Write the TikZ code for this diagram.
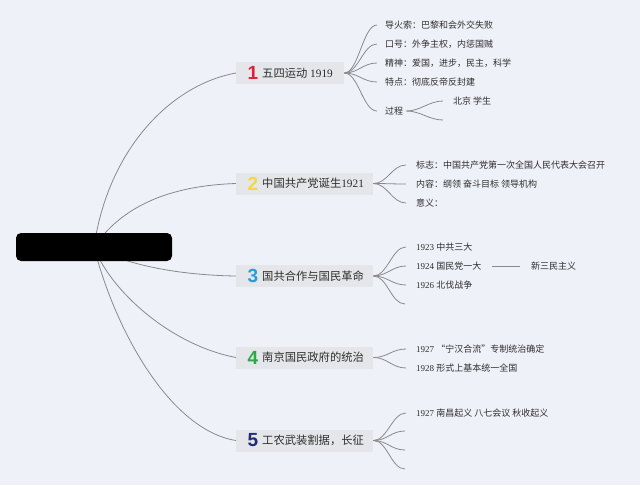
\documentclass[tikz,border=0pt]{standalone}
\usepackage{fontspec}
\setmainfont{Liberation Serif}
\newfontfamily\cjk{Noto Sans CJK SC}
\newfontfamily\numfont{Liberation Sans}
\definecolor{bgc}{HTML}{EEF1F8}
\definecolor{boxc}{HTML}{E5E6E9}
\definecolor{linec}{HTML}{8A8A8A}
\definecolor{txtc}{HTML}{2E2E2E}
\definecolor{nA}{HTML}{E0203A}
\definecolor{nB}{HTML}{F5D64A}
\definecolor{nC}{HTML}{2B9BD8}
\definecolor{nD}{HTML}{2AA84A}
\definecolor{nE}{HTML}{232A7A}
\tikzset{
  topicbox/.style={fill=boxc, draw=none, minimum height=22pt, inner sep=0pt, anchor=west},
  numtxt/.style={font=\numfont\bfseries\fontsize{19}{19}\selectfont, inner sep=0pt},
  topictxt/.style={font=\fontsize{11.3}{13}\selectfont, text=txtc, inner sep=0pt, anchor=west},
  subtxt/.style={font=\fontsize{9}{11}\selectfont, text=txtc, inner sep=0pt, anchor=west},
  conn/.style={draw=linec, line width=0.8pt},
}
\begin{document}
\begin{tikzpicture}[x=1pt,y=-1pt]
\fill[bgc] (0,0) rectangle (640,485);
\useasboundingbox (0,0) rectangle (640,485);

% topic boxes
\node[topicbox, minimum width=108pt] (b1) at (236,73) {};
\node[topicbox, minimum width=137pt] (b2) at (236,183.5) {};
\node[topicbox, minimum width=137pt] (b3) at (236,276) {};
\node[topicbox, minimum width=137pt] (b4) at (236,357.5) {};
\node[topicbox, minimum width=137pt] (b5) at (236,440.5) {};

\node[numtxt, text=nA] (n1) at (253,73) {1};
\node[numtxt, text=nB] (n2) at (253,183.5) {2};
\node[numtxt, text=nC] (n3) at (253,276) {3};
\node[numtxt, text=nD] (n4) at (253,357.5) {4};
\node[numtxt, text=nE] (n5) at (253,440.5) {5};

\node[topictxt] (l1) at (262,73) {{\cjk 五四运动} 1919};
\node[topictxt] (l2) at (262,183.5) {{\cjk 中国共产党诞生}1921};
\node[topictxt] (l3) at (262,276) {\cjk 国共合作与国民革命};
\node[topictxt] (l4) at (262,357.5) {\cjk 南京国民政府的统治};
\node[topictxt] (l5) at (262,440.5) {\cjk 工农武装割据，长征};

% central connectors
\coordinate (cc) at (94,247);
\draw[conn] (cc) .. controls (108,150) and (170,85) .. (b1.west);
\draw[conn] (cc) .. controls (118,212) and (160,186) .. (b2.west);
\draw[conn] (cc) .. controls (120,262) and (170,275) .. (b3.west);
\draw[conn] (cc) .. controls (110,290) and (170,345) .. (b4.west);
\draw[conn] (cc) .. controls (115,330) and (170,430) .. (b5.west);

\node[fill=black, rounded corners=5pt, minimum width=156pt, minimum height=28pt, inner sep=0pt] (c) at (94,247) {};

% branch 1
\node[subtxt] (t11) at (385,25) {\cjk 导火索：巴黎和会外交失败};
\node[subtxt] (t12) at (385,44) {\cjk 口号：外争主权，内惩国贼};
\node[subtxt] (t13) at (385,63) {\cjk 精神：爱国，进步，民主，科学};
\node[subtxt] (t14) at (385,82) {\cjk 特点：彻底反帝反封建};
\node[subtxt] (t15) at (385,111) {\cjk 过程};
\foreach \t in {t11,t12,t13,t14,t15}
  \draw[conn] (b1.east) .. controls +(14,0) and +(-14,0) .. ([xshift=-8pt]\t.west);
\node[subtxt] (t151) at (453,101) {\cjk 北京 学生};
\coordinate (e152) at (443,120);
\draw[conn] ([xshift=3pt]t15.east) .. controls +(14,0) and +(-14,0) .. ([xshift=-10pt]t151.west);
\draw[conn] ([xshift=3pt]t15.east) .. controls +(14,0) and +(-14,0) .. (e152);

% branch 2
\node[subtxt] (t21) at (416,165) {\cjk 标志：中国共产党第一次全国人民代表大会召开};
\node[subtxt] (t22) at (416,184) {\cjk 内容：纲领 奋斗目标 领导机构};
\node[subtxt] (t23) at (416,203) {\cjk 意义：};
\foreach \t in {t21,t22,t23}
  \draw[conn] (b2.east) .. controls +(14,0) and +(-14,0) .. ([xshift=-10pt]\t.west);

% branch 3
\node[subtxt] (t31) at (416,247) {1923 {\cjk 中共三大}};
\node[subtxt] (t32) at (416,266) {1924 {\cjk 国民党一大}};
\node[subtxt] (t33) at (416,285) {1926 {\cjk 北伐战争}};
\coordinate (e34) at (405,304);
\foreach \t in {t31,t32,t33}
  \draw[conn] (b3.east) .. controls +(14,0) and +(-14,0) .. ([xshift=-10pt]\t.west);
\draw[conn] (b3.east) .. controls +(14,0) and +(-14,0) .. (e34);
\node[subtxt] (t321) at (531,266) {\cjk 新三民主义};
\draw[conn] ([xshift=10pt]t32.east) -- ([xshift=-11pt]t321.west);

% branch 4
\node[subtxt] (t41) at (416,349) {1927 {\cjk “宁汉合流”专制统治确定}};
\node[subtxt] (t42) at (416,368) {1928 {\cjk 形式上基本统一全国}};
\foreach \t in {t41,t42}
  \draw[conn] (b4.east) .. controls +(14,0) and +(-14,0) .. ([xshift=-10pt]\t.west);

% branch 5
\node[subtxt] (t51) at (416,413) {1927 {\cjk 南昌起义 八七会议 秋收起义}};
\coordinate (e52) at (405,431);
\coordinate (e53) at (405,450);
\coordinate (e54) at (405,469);
\draw[conn] (b5.east) .. controls +(14,0) and +(-14,0) .. ([xshift=-10pt]t51.west);
\foreach \e in {e52,e53,e54}
  \draw[conn] (b5.east) .. controls +(14,0) and +(-14,0) .. (\e);
\end{tikzpicture}
\end{document}
